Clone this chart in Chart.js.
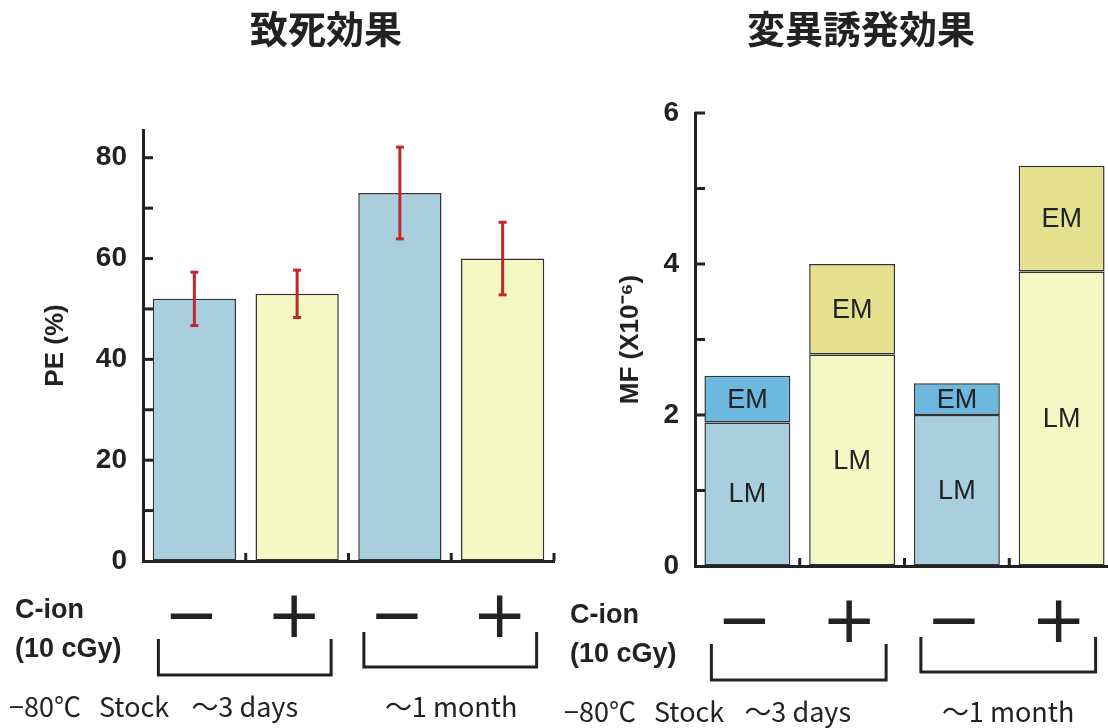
<!DOCTYPE html>
<html>
<head>
<meta charset="utf-8">
<script src="https://cdn.jsdelivr.net/npm/chart.js@4.4.0/dist/chart.umd.min.js"></script>
<style>
body { margin: 0; background: #fff; width: 1108px; height: 728px; overflow: hidden; position: relative; }
canvas { position: absolute; top: 0; }
#peChart { left: 0; }
#mfChart { left: 555px; }
</style>
</head>
<body>
<canvas id="peChart" width="556" height="728"></canvas>
<canvas id="mfChart" width="560" height="728"></canvas>
<script>
// C-ion (10 cGy) off / on, for ~3 days and ~1 month stock
var ionLabels = ['\u2212', '+', '\u2212', '+'];
var stockLabels = ['\uFF5E3 days', '\uFF5E1 month'];

// lethal effect, PE (%)
var peValues = [52, 53, 73, 60];
var peErrors = [5.3, 4.7, 9.1, 7.2];
var peTicks = [0, 10, 20, 30, 40, 50, 60, 70, 80];
var peTickLabels = [0, 20, 40, 60, 80];

// mutation frequency, MF (x10^-6)
var lmValues = [1.9, 2.8, 2.0, 3.9];
var emValues = [0.62, 1.2, 0.42, 1.4];
var mfTicks = [0, 1, 2, 3, 4, 5, 6];
var mfTickLabels = [0, 2, 4, 6];

var BLUE = '#a9cedd';
var YELLOW = '#f4f8c2';
var EM_BLUE = '#6cb8de';
var EM_YELLOW = '#e6e18e';
var INK = '#222';
var NUM_FONT = '"Liberation Sans", Arial, sans-serif';
var JP_FONT = '"Noto Sans CJK JP", sans-serif';

function line(ctx, x1, y1, x2, y2) {
    ctx.beginPath();
    ctx.moveTo(x1, y1);
    ctx.lineTo(x2, y2);
    ctx.stroke();
}

// title, inner ticks, brackets and the notes under the axis
function decorations(title, titleX) {
    return {
        id: 'decorations',
        afterDraw: function (chart) {
            var ctx = chart.ctx, area = chart.chartArea;
            var xs = chart.scales.x, ys = chart.scales.y;
            var b = area.bottom;
            ctx.save();
            ctx.fillStyle = INK;
            ctx.strokeStyle = INK;

            ctx.font = 'bold 38px ' + JP_FONT;
            ctx.textAlign = 'center';
            ctx.textBaseline = 'middle';
            ctx.fillText(title, titleX, 29);

            ctx.lineWidth = 3;
            ys.ticks.forEach(function (t) {
                if (t.value === 0) return;
                var y = ys.getPixelForValue(t.value);
                line(ctx, area.left, y, area.left + 10, y);
            });
            var n = xs.ticks.length;
            var w = (area.right - area.left) / n;
            for (var i = 1; i <= n; i++) {
                var x = area.left + i * w;
                line(ctx, x, b, x, b - 8);
            }

            var brackets = [[0, 1, 78, 114], [2, 3, 71, 106]];
            brackets.forEach(function (br) {
                var xl = xs.getPixelForValue(br[0]) - 36;
                var xr = xs.getPixelForValue(br[1]) + 34;
                ctx.beginPath();
                ctx.moveTo(xl, b + br[2]);
                ctx.lineTo(xl, b + br[3]);
                ctx.lineTo(xr, b + br[3]);
                ctx.lineTo(xr, b + br[2]);
                ctx.stroke();
            });

            ctx.textAlign = 'left';
            ctx.textBaseline = 'alphabetic';
            ctx.font = 'bold 27px ' + NUM_FONT;
            ctx.fillText('C-ion', 15, b + 57);
            ctx.fillText('(10 cGy)', 15, b + 96);

            ctx.font = '27px ' + JP_FONT;
            ctx.fillText('\u221280\u2103', 9, b + 156);
            ctx.fillText('Stock', 99, b + 156);
            ctx.fillText(stockLabels[0], xs.getPixelForValue(0) - 36 + 33, b + 156);
            ctx.fillText(stockLabels[1], xs.getPixelForValue(2) - 36 + 21, b + 156);
            ctx.restore();
        }
    };
}

var errorBars = {
    id: 'errorBars',
    afterDatasetsDraw: function (chart) {
        var ctx = chart.ctx, ys = chart.scales.y;
        var meta = chart.getDatasetMeta(0);
        ctx.save();
        ctx.strokeStyle = '#c1272d';
        ctx.lineWidth = 3;
        meta.data.forEach(function (bar, i) {
            var top = ys.getPixelForValue(peValues[i] + peErrors[i]);
            var bot = ys.getPixelForValue(peValues[i] - peErrors[i]);
            line(ctx, bar.x, top, bar.x, bot);
            line(ctx, bar.x - 4, top, bar.x + 4, top);
            line(ctx, bar.x - 4, bot, bar.x + 4, bot);
        });
        ctx.restore();
    }
};

var segmentLabels = {
    id: 'segmentLabels',
    afterDatasetsDraw: function (chart) {
        var ctx = chart.ctx;
        ctx.save();
        ctx.fillStyle = INK;
        ctx.font = '27px ' + NUM_FONT;
        ctx.textAlign = 'center';
        ctx.textBaseline = 'middle';
        chart.data.datasets.forEach(function (ds, d) {
            chart.getDatasetMeta(d).data.forEach(function (bar) {
                ctx.fillText(ds.label, bar.x, (bar.y + bar.base) / 2 + 1);
            });
        });
        ctx.restore();
    }
};

function xAxis(height) {
    return {
        afterFit: function (s) { s.height = height; },
        ticks: {
            padding: 19, labelOffset: -3, color: INK, autoSkip: false, maxRotation: 0,
            font: { family: '"DejaVu Sans", sans-serif', size: 66 }
        },
        grid: { display: true, drawOnChartArea: false, drawTicks: false },
        border: { display: true, color: INK, width: 3 }
    };
}

function yAxis(max, ticks, labels, width, title, titlePad) {
    return {
        min: 0,
        max: max,
        afterBuildTicks: function (s) {
            s.ticks = ticks.map(function (v) { return { value: v }; });
        },
        afterFit: function (s) { s.width = width; },
        ticks: {
            padding: 16, color: INK,
            font: { family: NUM_FONT, size: 28, weight: 'bold' },
            callback: function (v) { return labels.indexOf(v) >= 0 ? String(v) : ''; }
        },
        grid: { display: true, drawOnChartArea: false, drawTicks: false },
        border: { display: true, color: INK, width: 3 },
        title: {
            display: true, text: title, color: INK,
            font: { family: NUM_FONT, size: 26, weight: 'bold' },
            padding: { top: titlePad, bottom: 0 }
        }
    };
}

function createPeChart() {
    var ctx = document.getElementById('peChart').getContext('2d');
    new Chart(ctx, {
        type: 'bar',
        data: {
            labels: ionLabels,
            datasets: [{
                label: 'PE',
                data: peValues,
                backgroundColor: [BLUE, YELLOW, BLUE, YELLOW],
                borderColor: '#333',
                borderWidth: 1.5,
                borderSkipped: false,
                barPercentage: 0.81,
                categoryPercentage: 1
            }]
        },
        options: {
            responsive: false,
            animation: false,
            devicePixelRatio: 1,
            layout: { padding: { left: 0, right: 2, top: 130, bottom: 0 } },
            plugins: { legend: { display: false }, tooltip: { enabled: false } },
            scales: {
                x: xAxis(167),
                y: yAxis(85.5, peTicks, peTickLabels, 143, 'PE (%)', 40)
            }
        },
        plugins: [errorBars, decorations('致死効果', 326)]
    });
}

function createMfChart() {
    var ctx = document.getElementById('mfChart').getContext('2d');
    new Chart(ctx, {
        type: 'bar',
        data: {
            labels: ionLabels,
            datasets: [
                {
                    label: 'LM',
                    data: lmValues,
                    backgroundColor: [BLUE, YELLOW, BLUE, YELLOW],
                    borderColor: '#333',
                    borderWidth: 1.5,
                    borderSkipped: false,
                    barPercentage: 0.82,
                    categoryPercentage: 1
                },
                {
                    label: 'EM',
                    data: emValues,
                    backgroundColor: [EM_BLUE, EM_YELLOW, EM_BLUE, EM_YELLOW],
                    borderColor: '#333',
                    borderWidth: 1.5,
                    borderSkipped: false,
                    barPercentage: 0.82,
                    categoryPercentage: 1
                }
            ]
        },
        options: {
            responsive: false,
            animation: false,
            devicePixelRatio: 1,
            layout: { padding: { left: 0, right: 1, top: 113, bottom: 0 } },
            plugins: { legend: { display: false }, tooltip: { enabled: false } },
            scales: {
                x: Object.assign(xAxis(162), { stacked: true }),
                y: Object.assign(yAxis(6, mfTicks, mfTickLabels, 140, 'MF (X10\u207B\u2076)', 60), { stacked: true })
            }
        },
        plugins: [segmentLabels, decorations('変異誘発効果', 306)]
    });
}

createPeChart();
createMfChart();
</script>
</body>
</html>
